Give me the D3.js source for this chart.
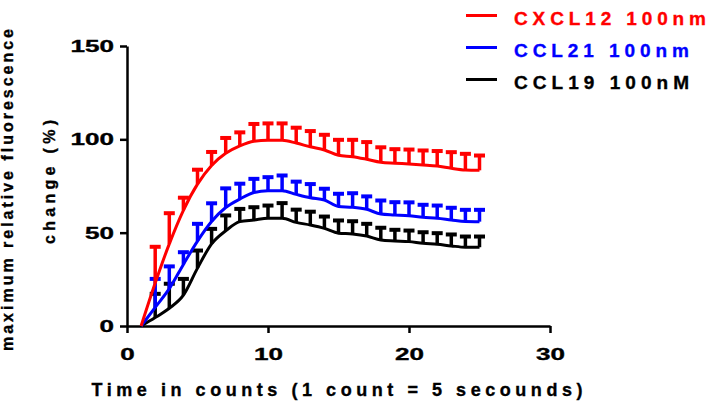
<!DOCTYPE html>
<html>
<head>
<meta charset="utf-8">
<script src="https://cdn.jsdelivr.net/npm/d3@7"></script>
<style>
  html, body { margin: 0; padding: 0; background: #fff; }
  svg { display: block; }
  text { font-family: "Liberation Sans", Arial, sans-serif; font-weight: bold; stroke-width: 0.35px; }
</style>
</head>
<body>
<svg id="chart" width="709" height="403"></svg>
<script>
// Time points (counts, 1 count = 5 s)
const counts = [1,2,3,4,5,6,7,8,9,10,11,12,13,14,15,16,17,18,19,20,21,22,23,24,25];

// Mean maximum relative fluorescence change (%) per chemokine
const cxcl12Mean = [0,23,44,62,76,86,92.5,96.5,99,99.5,99.5,98,96,94.3,91.5,90.7,89.3,87.7,87.2,86.8,86.3,85.7,84.5,83.6,83.4];
const ccl21Mean  = [0,10,20,33,45.5,56,63.5,68,71.5,72.5,72.5,70.5,68.7,67.5,64,63.6,62.5,60,59.5,59,58.2,57.7,56.8,56,55.9];
const ccl19Mean  = [0,4.5,9.5,16.5,31,44,51,55.9,56.8,57.7,57.7,55.5,54.1,52.3,49.7,49.3,48.2,46.1,45.6,45.2,44.3,43.8,42.9,42.2,42.2];

// Upper error (SEM) per time point
const cxcl12Err = [0,19.7,16.7,7,8,7.5,8.5,7.5,9.5,9.3,9.3,8.5,8.7,8.4,8.5,9.3,9.5,8.3,7.8,8,8,8.3,8.9,8.9,8.2];
const ccl21Err  = [0,15.5,12.2,6.8,9.5,10,10.5,8.5,7.6,7.5,8.4,7.1,7.6,6.3,7.1,7.8,7.2,7.5,7.1,7.5,7,7.1,6.8,6.5,6.6];
const ccl19Err  = [0,13,13.4,9,9.7,8.3,8.5,7.1,7.1,7.1,8.4,7.1,7.4,6.6,7.1,7.1,6.8,6.8,6.2,6.2,6.2,6.2,6.4,6,6];

const seriesNames = ["CXCL12 100nm", "CCL21 100nm", "CCL19 100nM"];
const seriesColors = ["#ff0000", "#0000ff", "#000000"];

const xTicks = [0, 10, 20, 30];
const yTicks = [0, 50, 100, 150];

const svg = d3.select("#chart");

const x = d3.scaleLinear().domain([0, 30]).range([127, 550]);
const y = d3.scaleLinear().domain([0, 150]).range([326, 46]);

const series = [
  { name: seriesNames[2], color: seriesColors[2], mean: ccl19Mean,  err: ccl19Err },
  { name: seriesNames[1], color: seriesColors[1], mean: ccl21Mean,  err: ccl21Err },
  { name: seriesNames[0], color: seriesColors[0], mean: cxcl12Mean, err: cxcl12Err }
];

// Axes
const yAxis = svg.append("g")
  .attr("transform", `translate(${x(0)},0)`)
  .call(d3.axisLeft(y).tickValues(yTicks).tickSize(7).tickSizeOuter(0).tickPadding(6));
const xAxis = svg.append("g")
  .attr("transform", `translate(0,${y(0)})`)
  .call(d3.axisBottom(x).tickValues(xTicks).tickSize(7).tickSizeOuter(0).tickPadding(15));

[yAxis, xAxis].forEach(g => {
  g.select(".domain").attr("stroke", "#000").attr("stroke-width", 2.5);
  g.selectAll(".tick line").attr("stroke", "#000").attr("stroke-width", 2.5);
  g.selectAll(".tick text")
    .attr("fill", "#000").attr("stroke", "#000")
    .style("font-size", "17px")
    .attr("textLength", d => String(d).length * 14.5)
    .attr("lengthAdjust", "spacingAndGlyphs");
});

// Error bars (upper only) with caps, then mean lines
const line = d3.line()
  .x((d, i) => x(counts[i]))
  .y(d => y(d))
  .curve(d3.curveMonotoneX);

series.forEach(s => {
  const g = svg.append("g");
  const bars = counts.map((c, i) => ({ c, m: s.mean[i], e: s.err[i] })).filter(d => d.e > 0);
  g.selectAll("line.bar").data(bars).join("line")
    .attr("x1", d => x(d.c)).attr("x2", d => x(d.c))
    .attr("y1", d => y(d.m)).attr("y2", d => y(d.m + d.e))
    .attr("stroke", s.color).attr("stroke-width", 3.5);
  g.selectAll("line.cap").data(bars).join("line")
    .attr("x1", d => x(d.c) - 5.5).attr("x2", d => x(d.c) + 5.5)
    .attr("y1", d => y(d.m + d.e) + 0.5).attr("y2", d => y(d.m + d.e) + 0.5)
    .attr("stroke", s.color).attr("stroke-width", 4);
  g.append("path")
    .attr("d", line(s.mean))
    .attr("fill", "none")
    .attr("stroke", s.color)
    .attr("stroke-width", 3)
    .attr("stroke-linejoin", "round");
});

// Axis titles
svg.append("text")
  .attr("x", 337).attr("y", 396)
  .attr("text-anchor", "middle")
  .attr("fill", "#000").attr("stroke", "#000")
  .style("font-size", "18px")
  .attr("textLength", 491).attr("lengthAdjust", "spacing")
  .text("Time in counts (1 count = 5 secounds)");

svg.append("text")
  .attr("transform", "translate(13,190) rotate(-90)")
  .attr("text-anchor", "middle")
  .attr("fill", "#000").attr("stroke", "#000")
  .style("font-size", "16px")
  .attr("textLength", 322).attr("lengthAdjust", "spacing")
  .text("maximum relative fluorescence");

svg.append("text")
  .attr("transform", "translate(55,182) rotate(-90)")
  .attr("text-anchor", "middle")
  .attr("fill", "#000").attr("stroke", "#000")
  .style("font-size", "16px")
  .attr("textLength", 124).attr("lengthAdjust", "spacing")
  .text("change (%)");

// Legend
const legendRows = [
  { name: seriesNames[0], color: seriesColors[0], len: 192 },
  { name: seriesNames[1], color: seriesColors[1], len: 175 },
  { name: seriesNames[2], color: seriesColors[2], len: 175 }
];
const legend = svg.append("g");
legendRows.forEach((r, i) => {
  const base = 25 + i * 32;
  legend.append("line")
    .attr("x1", 466).attr("x2", 497)
    .attr("y1", base - 9.5).attr("y2", base - 9.5)
    .attr("stroke", r.color).attr("stroke-width", 3);
  legend.append("text")
    .attr("x", 514).attr("y", base)
    .attr("fill", r.color).attr("stroke", r.color)
    .style("font-size", "19px")
    .attr("textLength", r.len).attr("lengthAdjust", "spacing")
    .text(r.name);
});
</script>
</body>
</html>
